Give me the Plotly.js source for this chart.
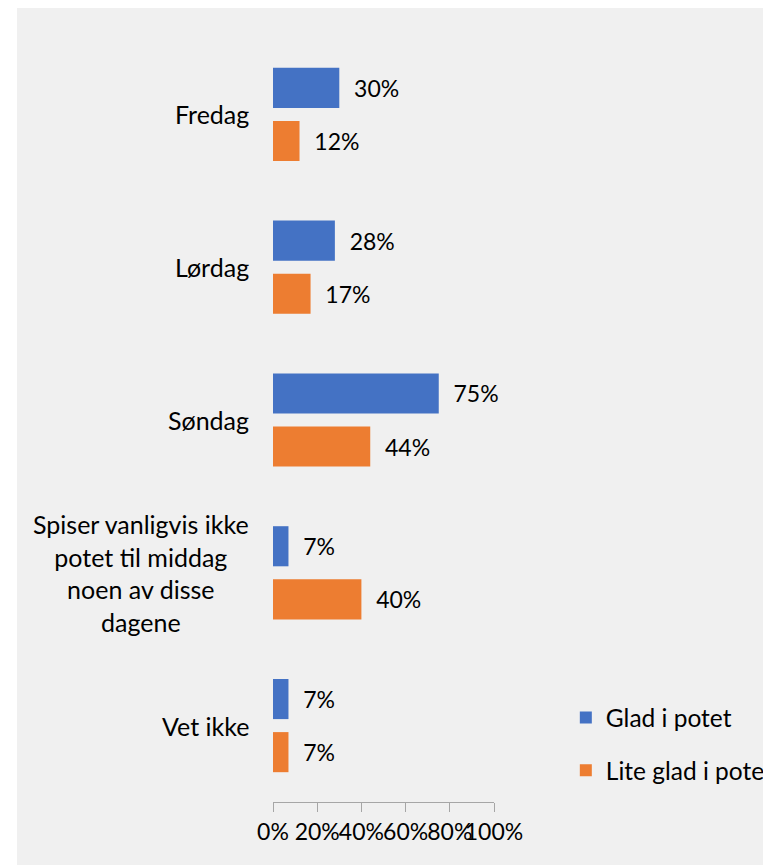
<!DOCTYPE html>
<html>
<head>
<meta charset="utf-8">
<script src="https://cdn.plot.ly/plotly-3.0.1.min.js"></script>
<style>
  body { margin: 0; background: #ffffff; }
  #graf { position: absolute; left: 17px; top: 8px; width: 746px; height: 857px; }
</style>
</head>
<body>
<div id="graf"></div>
<script>
// kategorier og verdier (prosent)
var kategorier = ['Fredag', 'Lørdag', 'Søndag',
    'Spiser vanligvis ikke<br>potet til middag<br>noen av disse<br>dagene', 'Vet ikke'];
var gladIPotet = [30, 28, 75, 7, 7];
var liteGladIPotet = [12, 17, 44, 40, 7];
var serieNavn = ['Glad i potet', 'Lite glad i potet'];
var tickVerdier = [0, 20, 40, 60, 80, 100];

var fontNavn = 'Lato, "Open Sans", sans-serif';
var fontStr = 23;

function lagSerie(navn, verdier, farge, gruppe) {
    return {
        type: 'bar',
        orientation: 'h',
        name: navn,
        legendgroup: gruppe,
        y: kategorier,
        x: verdier,
        text: verdier.map(function(v) { return '\u00a0\u00a0' + v + '%'; }),
        textposition: 'outside',
        cliponaxis: false,
        textfont: {family: fontNavn, size: fontStr, color: '#000000'},
        marker: {color: farge},
        hoverinfo: 'x+name'
    };
}

var data = [
    lagSerie(serieNavn[0], gladIPotet, '#4472c4', 'a'),
    lagSerie(serieNavn[1], liteGladIPotet, '#ed7d31', 'b')
];

// kategorinavn som sentrert tekst ved y-aksen
var annotasjoner = kategorier.map(function(k) {
    return {
        xref: 'paper', yref: 'y',
        x: -0.1, y: k,
        xanchor: 'right', yanchor: 'middle',
        align: 'center',
        text: k,
        showarrow: false,
        font: {family: fontNavn, size: 25, color: '#000000'}
    };
});

var layout = {
    width: 746,
    height: 857,
    margin: {l: 256, r: 269, t: 30, b: 63, autoexpand: false},
    paper_bgcolor: '#f0f0f0',
    plot_bgcolor: '#f0f0f0',
    barmode: 'group',
    bargap: 0.305,
    bargroupgap: 0.245,
    font: {family: fontNavn, size: fontStr, color: '#000000'},
    showlegend: true,
    legend: {
        x: 1.325, y: 0.14,
        xanchor: 'left', yanchor: 'top',
        traceorder: 'grouped',
        tracegroupgap: 18,
        bgcolor: 'rgba(0,0,0,0)',
        font: {family: fontNavn, size: 24.5, color: '#000000'}
    },
    xaxis: {
        range: [0, 100],
        tickvals: tickVerdier,
        ticktext: tickVerdier.map(function(v) { return v + '%'; }),
        tickangle: 0,
        showgrid: false,
        zeroline: false,
        showline: true,
        linecolor: '#a6a6a6',
        linewidth: 1,
        ticks: 'outside',
        ticklen: 9,
        tickcolor: '#a6a6a6',
        tickfont: {family: fontNavn, size: fontStr, color: '#000000'},
        fixedrange: true
    },
    yaxis: {
        type: 'category',
        autorange: 'reversed',
        showticklabels: false,
        showgrid: false,
        zeroline: false,
        showline: false,
        ticks: '',
        fixedrange: true
    },
    annotations: annotasjoner
};

Plotly.newPlot('graf', data, layout, {displayModeBar: false});
</script>
</body>
</html>
